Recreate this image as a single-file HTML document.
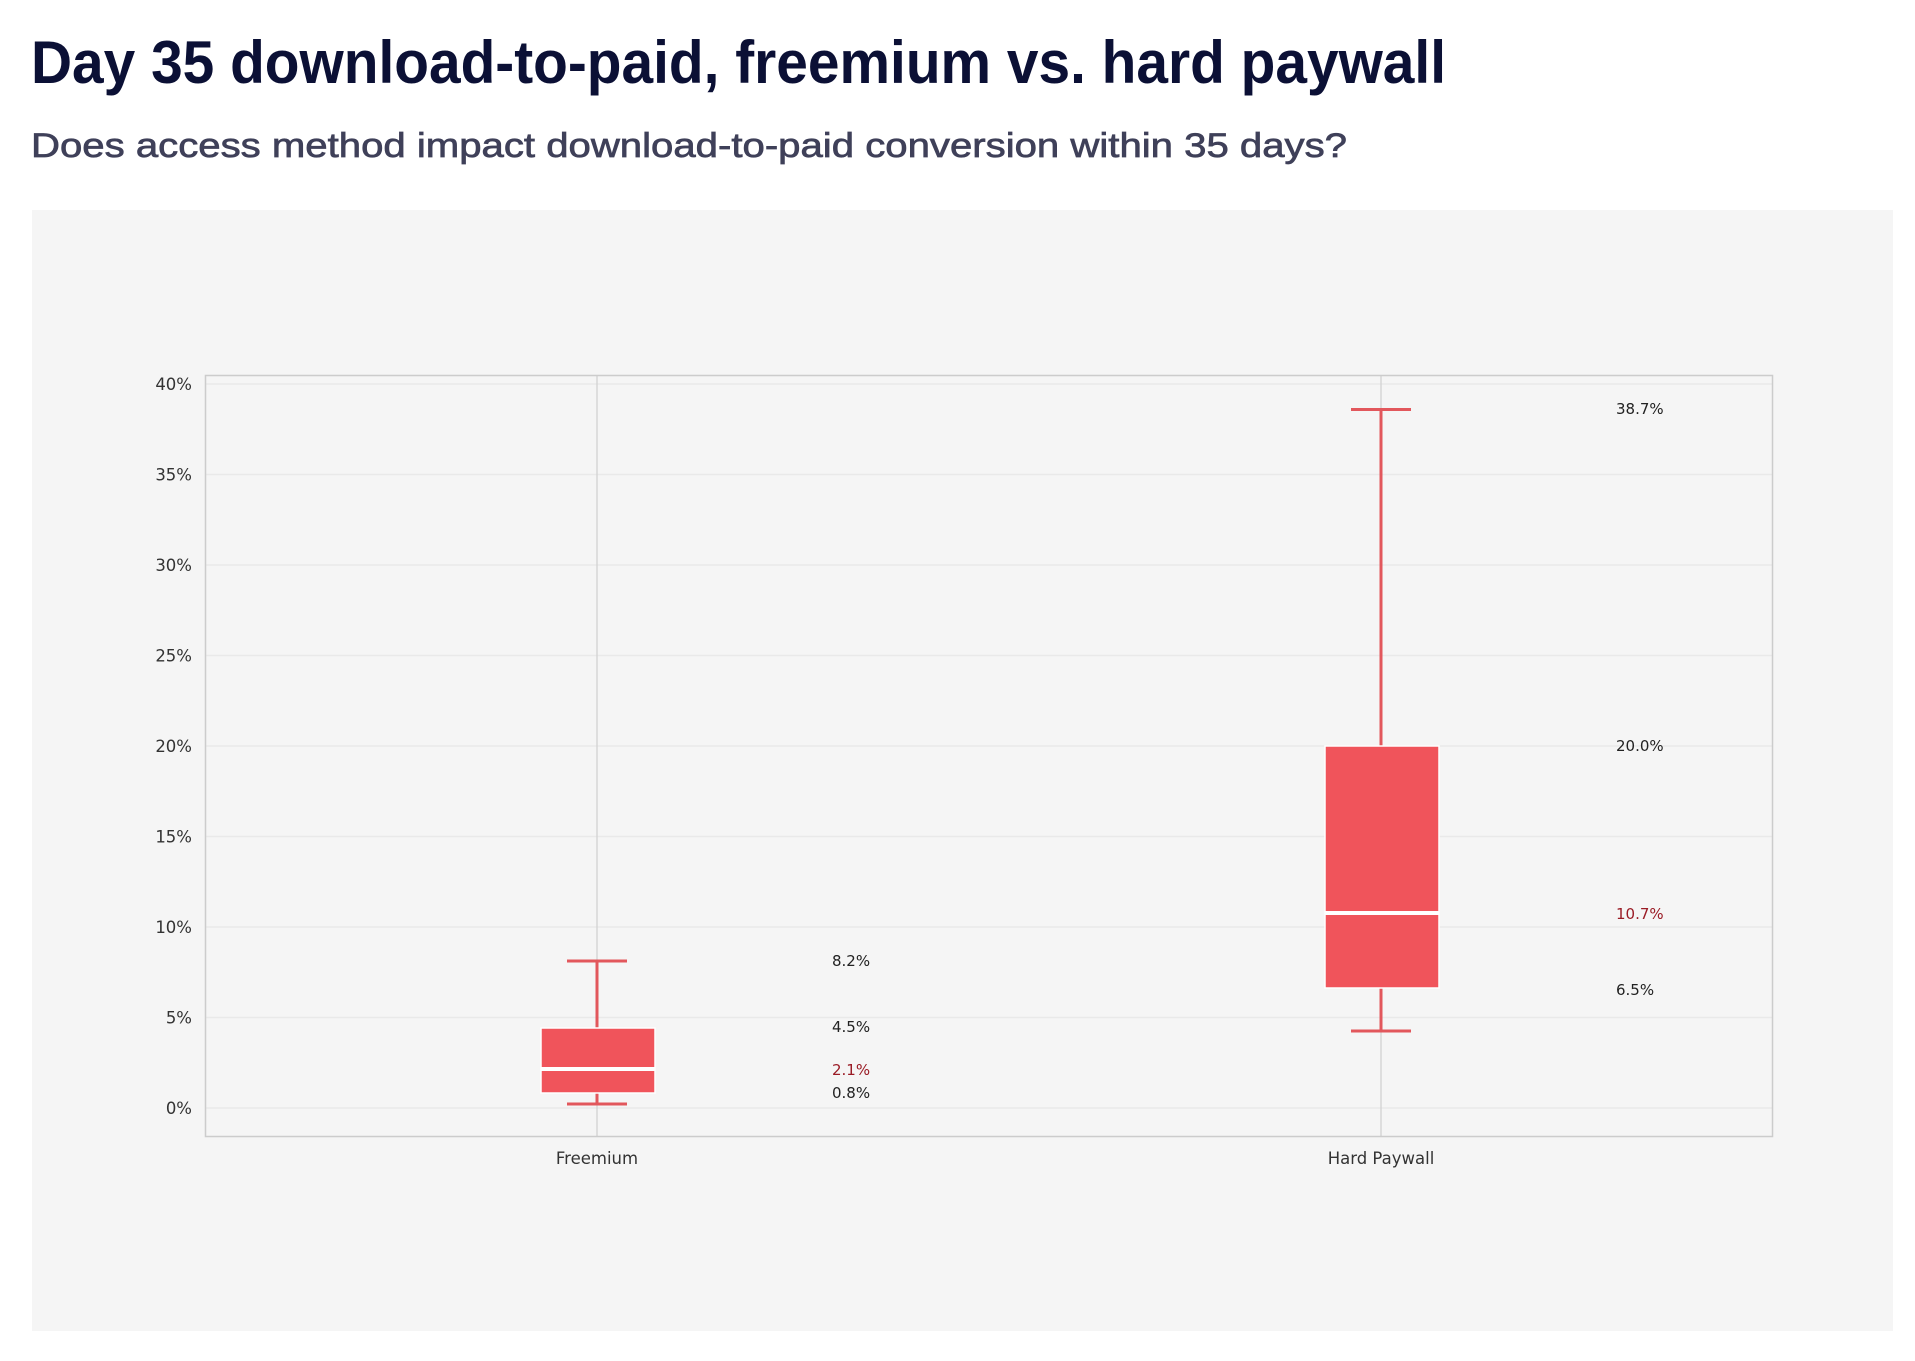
<!DOCTYPE html>
<html><head><meta charset="utf-8"><style>
html,body{margin:0;padding:0;background:#fff;width:1915px;height:1361px;overflow:hidden}
svg{display:block}
</style></head><body>
<svg width="1915" height="1361" viewBox="0 0 1915 1361" xmlns="http://www.w3.org/2000/svg" font-family="Liberation Sans, sans-serif">
<text x="31" y="83" font-size="60" font-weight="bold" fill="#0b1035" textLength="1415" lengthAdjust="spacingAndGlyphs">Day 35 download-to-paid, freemium vs. hard paywall</text>
<text x="31" y="157" font-size="34" fill="#3f4059" stroke="#3f4059" stroke-width="0.7" textLength="1316" lengthAdjust="spacingAndGlyphs">Does access method impact download-to-paid conversion within 35 days?</text>
<rect x="32" y="210" width="1861" height="1121" fill="#f5f5f5"/>
<g stroke="#e9e9e9" stroke-width="1.5">
<line x1="206" x2="1773" y1="1108" y2="1108"/>
<line x1="206" x2="1773" y1="1017.5" y2="1017.5"/>
<line x1="206" x2="1773" y1="927" y2="927"/>
<line x1="206" x2="1773" y1="836.5" y2="836.5"/>
<line x1="206" x2="1773" y1="746" y2="746"/>
<line x1="206" x2="1773" y1="655.5" y2="655.5"/>
<line x1="206" x2="1773" y1="565" y2="565"/>
<line x1="206" x2="1773" y1="474.5" y2="474.5"/>
<line x1="206" x2="1773" y1="384" y2="384"/>
</g>
<g stroke="#d6d6d6" stroke-width="1.5">
<line x1="597" x2="597" y1="375" y2="1137"/>
<line x1="1381" x2="1381" y1="375" y2="1137"/>
</g>
<rect x="205.5" y="375.5" width="1567" height="761" fill="none" stroke="#cccccc" stroke-width="1.5"/>
<g font-family="DejaVu Sans, sans-serif" font-size="16.5" fill="#333" text-anchor="end">
<text x="192" y="1114">0%</text>
<text x="192" y="1023.5">5%</text>
<text x="192" y="933">10%</text>
<text x="192" y="842.5">15%</text>
<text x="192" y="752">20%</text>
<text x="192" y="661.5">25%</text>
<text x="192" y="571">30%</text>
<text x="192" y="480.5">35%</text>
<text x="192" y="390">40%</text>
</g>
<g font-family="DejaVu Sans, sans-serif" font-size="16.5" fill="#333" text-anchor="middle">
<text x="597" y="1164">Freemium</text>
<text x="1381" y="1164">Hard Paywall</text>
</g>
<g stroke="#e2575c" stroke-width="3">
<line x1="597" x2="597" y1="961" y2="1029"/>
<line x1="597" x2="597" y1="1092" y2="1104"/>
<line x1="567" x2="627" y1="961" y2="961"/>
<line x1="567" x2="627" y1="1104" y2="1104"/>
</g>
<rect x="541" y="1028" width="114" height="65" fill="#f0545b" stroke="#fff" stroke-width="1.5"/>
<line x1="541" x2="655" y1="1069" y2="1069" stroke="#fff" stroke-width="4"/>
<g stroke="#e2575c" stroke-width="3">
<line x1="1381" x2="1381" y1="409.5" y2="746"/>
<line x1="1381" x2="1381" y1="988" y2="1031"/>
<line x1="1351" x2="1411" y1="409.5" y2="409.5"/>
<line x1="1351" x2="1411" y1="1031" y2="1031"/>
</g>
<rect x="1325" y="746" width="114" height="242" fill="#f0545b" stroke="#fff" stroke-width="1.5"/>
<line x1="1325" x2="1439" y1="913" y2="913" stroke="#fff" stroke-width="4"/>
<g font-family="DejaVu Sans, sans-serif" font-size="15" fill="#222">
<text x="832" y="966">8.2%</text>
<text x="832" y="1032">4.5%</text>
<text x="832" y="1098">0.8%</text>
<text x="1616" y="414">38.7%</text>
<text x="1616" y="751">20.0%</text>
<text x="1616" y="995">6.5%</text>
</g>
<g font-family="DejaVu Sans, sans-serif" font-size="15" fill="#9a1b25">
<text x="832" y="1075">2.1%</text>
<text x="1616" y="919">10.7%</text>
</g>
</svg>
</body></html>
